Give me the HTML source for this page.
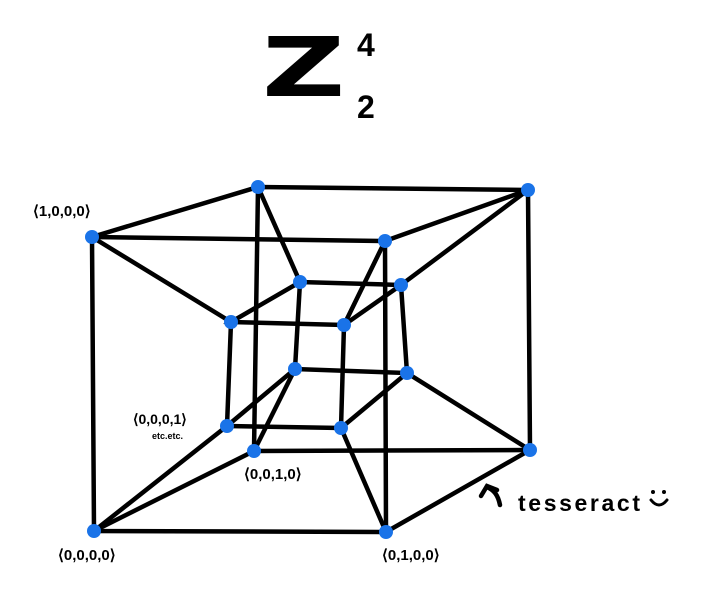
<!DOCTYPE html>
<html><head><style>body{margin:0;background:#fff}svg{display:block}</style></head><body>
<svg width="721" height="594" viewBox="0 0 721 594" xmlns="http://www.w3.org/2000/svg">
<g font-family="Liberation Sans, sans-serif" font-weight="bold" fill="#000">
<text x="0" y="0" font-size="82" font-family="DejaVu Sans, sans-serif" transform="translate(262,96) scale(1.4,1)">Z</text>
<text x="357" y="56" font-size="32">4</text>
<text x="357" y="118" font-size="32">2</text>
</g>
<g stroke="#000" stroke-width="4.5" stroke-linecap="round" fill="none">
<path d="M92,237 L258,187 L528,190 L385,241 Z"/>
<path d="M92,237 L94,531 L386,532 L530,450 L528,190"/>
<path d="M385,241 L386,532"/>
<path d="M258,187 L254,451 L530,450"/>
<path d="M254,451 L94,531"/>
<path d="M231,322 L344,325 L401,285 L300,282 Z"/>
<path d="M227,426 L341,428 L407,373 L295,369 Z"/>
<path d="M231,322 L227,426 M344,325 L341,428 M300,282 L295,369 M401,285 L407,373"/>
<path d="M92,237 L231,322 M258,187 L300,282 M528,190 L401,285 M385,241 L344,325"/>
<path d="M94,531 L227,426 M386,532 L341,428 M530,450 L407,373 M254,451 L295,369"/>
<path d="M500,505 C498,495 494,490 487,487 M481,496 L487,486 L497,490"/>
<path d="M651,500 Q659,510 667,500" stroke-width="3"/>
</g>
<g fill="#000"><circle cx="653" cy="492" r="2"/><circle cx="664" cy="492" r="2"/></g>
<g fill="#1a73e8">
<circle cx="92" cy="237" r="7"/><circle cx="258" cy="187" r="7"/><circle cx="528" cy="190" r="7"/><circle cx="385" cy="241" r="7"/>
<circle cx="94" cy="531" r="7"/><circle cx="386" cy="532" r="7"/><circle cx="530" cy="450" r="7"/><circle cx="254" cy="451" r="7"/>
<circle cx="231" cy="322" r="7"/><circle cx="344" cy="325" r="7"/><circle cx="401" cy="285" r="7"/><circle cx="300" cy="282" r="7"/>
<circle cx="227" cy="426" r="7"/><circle cx="341" cy="428" r="7"/><circle cx="407" cy="373" r="7"/><circle cx="295" cy="369" r="7"/>
</g>
<g font-family="Liberation Sans, sans-serif" font-weight="bold" fill="#000" font-size="15">
<text x="33" y="216">⟨1,0,0,0⟩</text>
<text x="133" y="424" font-size="14">⟨0,0,0,1⟩</text>
<text x="152" y="439" font-size="9">etc.etc.</text>
<text x="244" y="479">⟨0,0,1,0⟩</text>
<text x="58" y="560">⟨0,0,0,0⟩</text>
<text x="382" y="560">⟨0,1,0,0⟩</text>
<text x="518" y="511" font-size="23" textLength="122">tesseract</text>
</g>
</svg>
</body></html>
